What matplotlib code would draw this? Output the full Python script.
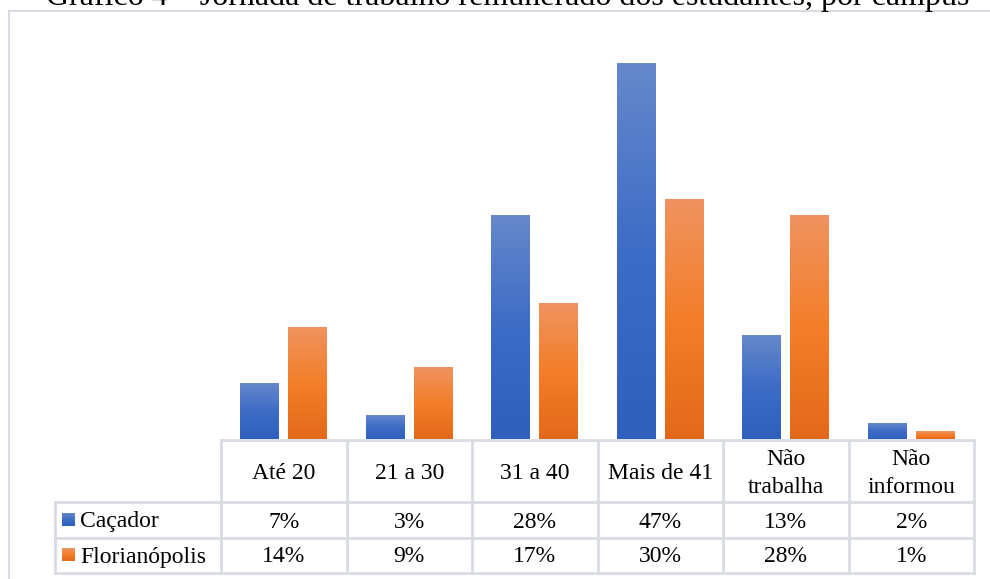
import numpy as np
import matplotlib
matplotlib.use("Agg")
import matplotlib.pyplot as plt
from matplotlib.colors import LinearSegmentedColormap
from matplotlib.lines import Line2D

# ---- data ----
categories = ["Até 20", "21 a 30", "31 a 40", "Mais de 41", "Não\ntrabalha", "Não\ninformou"]
series_names = ["Caçador", "Florianópolis"]
cacador = [7, 3, 28, 47, 13, 2]
florianopolis = [14, 9, 17, 30, 28, 1]
title = "Gráfico 4 – Jornada de trabalho remunerado dos estudantes, por campus"

W, H = 990, 579
plt.rcParams["font.family"] = ["Liberation Serif", "DejaVu Serif"]
fig = plt.figure(figsize=(W / 100, H / 100), dpi=100)

def fx(x):
    return x / W

def fy(y):
    return 1 - y / H

# plot area geometry (pixels, y measured from the top)
ax_left, ax_right = 221, 974
ax_top, ax_base = 39, 439
ax = fig.add_axes([fx(ax_left), fy(ax_base), (ax_right - ax_left) / W, (ax_base - ax_top) / H])
ax.axis("off")

cmaps = [
    LinearSegmentedColormap.from_list("blue", ["#2E60BC", "#3D6CC6", "#6688CB"]),
    LinearSegmentedColormap.from_list("orange", ["#E2691A", "#F47E29", "#EF9360"]),
]
bar_w = 0.31
offsets = [-0.19, 0.19]
grad = np.linspace(0, 1, 256).reshape(-1, 1)
for values, off, cmap in zip([cacador, florianopolis], offsets, cmaps):
    x = np.arange(len(categories)) + off
    bars = ax.bar(x, values, width=bar_w, color="none", edgecolor="none")
    for b in bars:
        x0, h = b.get_x(), b.get_height()
        ax.imshow(grad, cmap=cmap, origin="lower", aspect="auto",
                  extent=[x0, x0 + b.get_width(), 0, h], zorder=2)
ax.set_xlim(-0.5, len(categories) - 0.5)
ax.set_ylim(0, 50)

# ---- outer chart frame ----
frame_c = "#D9DCE4"
fig.add_artist(Line2D([fx(9), fx(W + 5)], [fy(11), fy(11)], color=frame_c, lw=1.5))
fig.add_artist(Line2D([fx(9), fx(9)], [fy(11), fy(H + 5)], color=frame_c, lw=1.5))

# ---- title (runs off the top edge) ----
fig.text(fx(508), fy(5.5), title, ha="center", va="baseline", fontsize=23, color="black")

# ---- data table ----
grid_c = "#D9DCE3"
colw = (ax_right - ax_left) / len(categories)
col_x = [ax_left + i * colw for i in range(len(categories) + 1)]
leg_left = 55
row_y = [440, 502, 537.5, 572.5]

def hline(x0, x1, y):
    fig.add_artist(Line2D([fx(x0), fx(x1)], [fy(y), fy(y)], color=grid_c, lw=2))

def vline(x, y0, y1):
    fig.add_artist(Line2D([fx(x), fx(x)], [fy(y0), fy(y1)], color=grid_c, lw=2))

hline(ax_left, ax_right, row_y[0])
for y in row_y[1:]:
    hline(leg_left, ax_right, y)
for x in col_x:
    vline(x, row_y[0], row_y[3])
vline(leg_left, row_y[1], row_y[3])

fs = 17
line_gap = 28
header_base = 479
for i, cat in enumerate(categories):
    cx = (col_x[i] + col_x[i + 1]) / 2
    lines = cat.split("\n")
    first = header_base - line_gap * (len(lines) - 1) / 2
    for k, ln in enumerate(lines):
        fig.text(fx(cx), fy(first + k * line_gap), ln, ha="center", va="baseline", fontsize=fs)

row_base = [527.5, 562.5]
for r, (name, vals) in enumerate(zip(series_names, [cacador, florianopolis])):
    yb = row_base[r]
    sax = fig.add_axes([fx(62), fy(yb - 1.5), 13 / W, 13 / H])
    sax.imshow(grad, cmap=cmaps[r], origin="lower", aspect="auto", extent=[0, 1, 0, 1])
    sax.axis("off")
    fig.text(fx(80), fy(yb), name, ha="left", va="baseline", fontsize=fs)
    for i, v in enumerate(vals):
        cx = (col_x[i] + col_x[i + 1]) / 2
        fig.text(fx(cx), fy(yb), f"{v}%", ha="center", va="baseline", fontsize=fs)

fig.savefig("out.png", dpi=100, facecolor="white")
